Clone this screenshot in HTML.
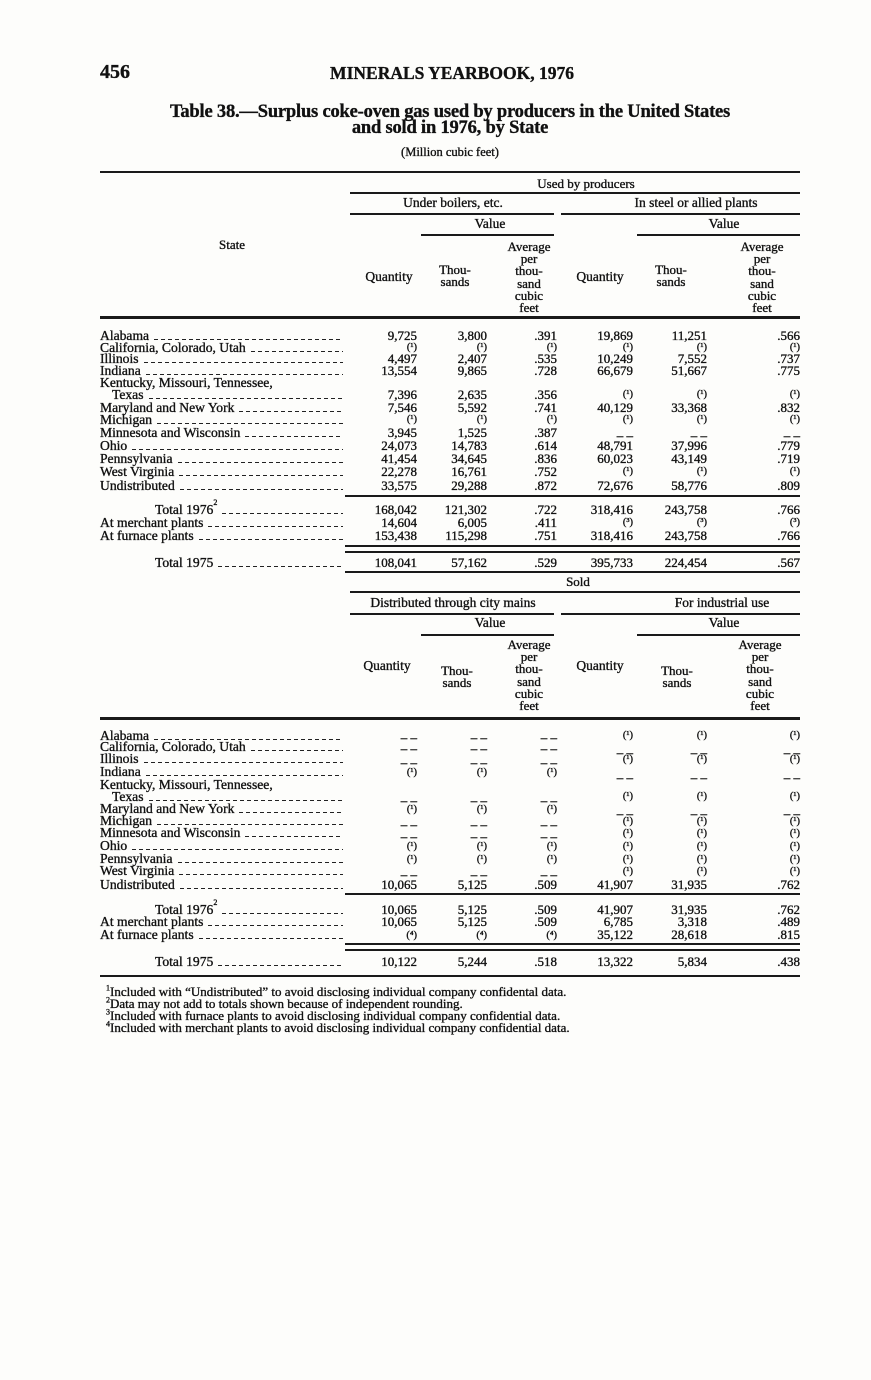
<!DOCTYPE html>
<html><head><meta charset="utf-8"><style>
body{margin:0;background:#fdfdfb;}
#p{position:relative;width:871px;height:1380px;overflow:hidden;font-family:"Liberation Serif",serif;color:#111;font-size:13px;-webkit-text-stroke:0.35px #111;}
.t{position:absolute;white-space:nowrap;line-height:14px;}
.ce{transform:translateX(-50%);text-align:center;}
.h{position:absolute;background:#1a1a1a;}
.lb{position:absolute;left:100px;width:243px;display:flex;white-space:nowrap;line-height:14px;font-size:13.6px;}
.lb i{flex:1;height:1px;align-self:flex-end;margin:0 0 3px 5px;background:repeating-linear-gradient(90deg,#222 0 4px,transparent 4px 7px);}
.v{position:absolute;line-height:14px;white-space:nowrap;text-align:right;}
.a{right:454px}.b{right:384px}.c{right:314px}.d{right:238px}.e{right:164px}.f{right:71px}
.n{font-size:10.5px;}
.hd{position:absolute;text-align:center;line-height:12.2px;font-size:13px;transform:translateX(-50%);}
</style></head><body><div id="p">
<div class="t" style="left:100px;top:62px;font-size:20px;font-weight:bold;line-height:20px">456</div>
<div class="t ce" style="left:452px;top:64px;font-size:17.5px;font-weight:bold;line-height:18px">MINERALS YEARBOOK, 1976</div>
<div class="t ce" style="left:450px;top:104px;font-size:18.5px;font-weight:bold;letter-spacing:-0.2px;line-height:16px">Table 38.—Surplus coke-oven gas used by producers in the United States</div>
<div class="t ce" style="left:450px;top:120px;font-size:18.5px;font-weight:bold;letter-spacing:-0.2px;line-height:16px">and sold in 1976, by State</div>
<div class="t ce" style="left:450px;top:145px;font-size:12.5px">(Million cubic feet)</div>

<div class="h" style="left:100px;top:171px;width:700px;height:2px"></div>
<div class="t ce" style="left:586px;top:177px;font-size:13px">Used by producers</div>
<div class="h" style="left:350px;top:192px;width:450px;height:1.5px"></div>
<div class="t ce" style="left:453px;top:196px;font-size:13.5px">Under boilers, etc.</div>
<div class="t ce" style="left:696px;top:196px;font-size:13.5px">In steel or allied plants</div>
<div class="h" style="left:350px;top:213px;width:204px;height:1.5px"></div>
<div class="h" style="left:561px;top:213px;width:239px;height:1.5px"></div>
<div class="t ce" style="left:490px;top:217px;font-size:13.5px">Value</div>
<div class="t ce" style="left:724px;top:217px;font-size:13.5px">Value</div>
<div class="h" style="left:421px;top:234px;width:133px;height:1.5px"></div>
<div class="h" style="left:637px;top:234px;width:163px;height:1.5px"></div>
<div class="t ce" style="left:232px;top:238px;font-size:13px">State</div>
<div class="t ce" style="left:389px;top:270px;font-size:13.5px">Quantity</div>
<div class="hd" style="left:455px;top:264px">Thou-<br>sands</div>
<div class="hd" style="left:529px;top:241px">Average<br>per<br>thou-<br>sand<br>cubic<br>feet</div>
<div class="t ce" style="left:600px;top:270px;font-size:13.5px">Quantity</div>
<div class="hd" style="left:671px;top:264px">Thou-<br>sands</div>
<div class="hd" style="left:762px;top:241px">Average<br>per<br>thou-<br>sand<br>cubic<br>feet</div>
<div class="h" style="left:100px;top:316px;width:700px;height:2.5px"></div>

<div class="lb" style="top:329px">Alabama<i></i></div><span class="v a" style="top:329px">9,725</span><span class="v b" style="top:329px">3,800</span><span class="v c" style="top:329px">.391</span><span class="v d" style="top:329px">19,869</span><span class="v e" style="top:329px">11,251</span><span class="v f" style="top:329px">.566</span>
<div class="lb" style="top:341px">California, Colorado, Utah<i></i></div><span class="v a n" style="top:341px">(¹)</span><span class="v b n" style="top:341px">(¹)</span><span class="v c n" style="top:341px">(¹)</span><span class="v d n" style="top:341px">(¹)</span><span class="v e n" style="top:341px">(¹)</span><span class="v f n" style="top:341px">(¹)</span>
<div class="lb" style="top:352px">Illinois<i></i></div><span class="v a" style="top:352px">4,497</span><span class="v b" style="top:352px">2,407</span><span class="v c" style="top:352px">.535</span><span class="v d" style="top:352px">10,249</span><span class="v e" style="top:352px">7,552</span><span class="v f" style="top:352px">.737</span>
<div class="lb" style="top:364px">Indiana<i></i></div><span class="v a" style="top:364px">13,554</span><span class="v b" style="top:364px">9,865</span><span class="v c" style="top:364px">.728</span><span class="v d" style="top:364px">66,679</span><span class="v e" style="top:364px">51,667</span><span class="v f" style="top:364px">.775</span>
<div class="t" style="left:100px;top:376px;font-size:13.6px">Kentucky, Missouri, Tennessee,</div>
<div class="lb" style="top:388px;padding-left:12px;width:231px">Texas<i></i></div><span class="v a" style="top:388px">7,396</span><span class="v b" style="top:388px">2,635</span><span class="v c" style="top:388px">.356</span><span class="v d n" style="top:388px">(¹)</span><span class="v e n" style="top:388px">(¹)</span><span class="v f n" style="top:388px">(¹)</span>
<div class="lb" style="top:401px">Maryland and New York<i></i></div><span class="v a" style="top:401px">7,546</span><span class="v b" style="top:401px">5,592</span><span class="v c" style="top:401px">.741</span><span class="v d" style="top:401px">40,129</span><span class="v e" style="top:401px">33,368</span><span class="v f" style="top:401px">.832</span>
<div class="lb" style="top:413px">Michigan<i></i></div><span class="v a n" style="top:413px">(¹)</span><span class="v b n" style="top:413px">(¹)</span><span class="v c n" style="top:413px">(¹)</span><span class="v d n" style="top:413px">(¹)</span><span class="v e n" style="top:413px">(¹)</span><span class="v f n" style="top:413px">(¹)</span>
<div class="lb" style="top:426px">Minnesota and Wisconsin<i></i></div><span class="v a" style="top:426px">3,945</span><span class="v b" style="top:426px">1,525</span><span class="v c" style="top:426px">.387</span><span class="v d" style="top:429px">– –</span><span class="v e" style="top:429px">– –</span><span class="v f" style="top:429px">– –</span>
<div class="lb" style="top:439px">Ohio<i></i></div><span class="v a" style="top:439px">24,073</span><span class="v b" style="top:439px">14,783</span><span class="v c" style="top:439px">.614</span><span class="v d" style="top:439px">48,791</span><span class="v e" style="top:439px">37,996</span><span class="v f" style="top:439px">.779</span>
<div class="lb" style="top:452px">Pennsylvania<i></i></div><span class="v a" style="top:452px">41,454</span><span class="v b" style="top:452px">34,645</span><span class="v c" style="top:452px">.836</span><span class="v d" style="top:452px">60,023</span><span class="v e" style="top:452px">43,149</span><span class="v f" style="top:452px">.719</span>
<div class="lb" style="top:465px">West Virginia<i></i></div><span class="v a" style="top:465px">22,278</span><span class="v b" style="top:465px">16,761</span><span class="v c" style="top:465px">.752</span><span class="v d n" style="top:465px">(¹)</span><span class="v e n" style="top:465px">(¹)</span><span class="v f n" style="top:465px">(¹)</span>
<div class="lb" style="top:479px">Undistributed<i></i></div><span class="v a" style="top:479px">33,575</span><span class="v b" style="top:479px">29,288</span><span class="v c" style="top:479px">.872</span><span class="v d" style="top:479px">72,676</span><span class="v e" style="top:479px">58,776</span><span class="v f" style="top:479px">.809</span>
<div class="h" style="left:345px;top:495px;width:455px;height:1.5px"></div>
<div class="lb" style="top:503px;padding-left:55px;width:188px">Total 1976<sup style="font-size:8px;line-height:0">2</sup><i></i></div><span class="v a" style="top:503px">168,042</span><span class="v b" style="top:503px">121,302</span><span class="v c" style="top:503px">.722</span><span class="v d" style="top:503px">318,416</span><span class="v e" style="top:503px">243,758</span><span class="v f" style="top:503px">.766</span>
<div class="lb" style="top:516px">At merchant plants<i></i></div><span class="v a" style="top:516px">14,604</span><span class="v b" style="top:516px">6,005</span><span class="v c" style="top:516px">.411</span><span class="v d n" style="top:516px">(³)</span><span class="v e n" style="top:516px">(³)</span><span class="v f n" style="top:516px">(³)</span>
<div class="lb" style="top:529px">At furnace plants<i></i></div><span class="v a" style="top:529px">153,438</span><span class="v b" style="top:529px">115,298</span><span class="v c" style="top:529px">.751</span><span class="v d" style="top:529px">318,416</span><span class="v e" style="top:529px">243,758</span><span class="v f" style="top:529px">.766</span>
<div class="h" style="left:345px;top:545px;width:455px;height:2px"></div>
<div class="h" style="left:345px;top:551px;width:455px;height:1.5px"></div>
<div class="lb" style="top:556px;padding-left:55px;width:188px">Total 1975<i></i></div><span class="v a" style="top:556px">108,041</span><span class="v b" style="top:556px">57,162</span><span class="v c" style="top:556px">.529</span><span class="v d" style="top:556px">395,733</span><span class="v e" style="top:556px">224,454</span><span class="v f" style="top:556px">.567</span>
<div class="h" style="left:345px;top:571px;width:455px;height:1.5px"></div>

<div class="t ce" style="left:578px;top:575px;font-size:13px">Sold</div>
<div class="h" style="left:350px;top:591px;width:450px;height:1.5px"></div>
<div class="t ce" style="left:453px;top:596px;font-size:13.5px">Distributed through city mains</div>
<div class="t ce" style="left:722px;top:596px;font-size:13.5px">For industrial use</div>
<div class="h" style="left:350px;top:613px;width:204px;height:1.5px"></div>
<div class="h" style="left:561px;top:613px;width:239px;height:1.5px"></div>
<div class="t ce" style="left:490px;top:616px;font-size:13.5px">Value</div>
<div class="t ce" style="left:724px;top:616px;font-size:13.5px">Value</div>
<div class="h" style="left:421px;top:634px;width:133px;height:1.5px"></div>
<div class="h" style="left:637px;top:634px;width:163px;height:1.5px"></div>
<div class="t ce" style="left:387px;top:659px;font-size:13.5px">Quantity</div>
<div class="hd" style="left:457px;top:665px">Thou-<br>sands</div>
<div class="hd" style="left:529px;top:639px">Average<br>per<br>thou-<br>sand<br>cubic<br>feet</div>
<div class="t ce" style="left:600px;top:659px;font-size:13.5px">Quantity</div>
<div class="hd" style="left:677px;top:665px">Thou-<br>sands</div>
<div class="hd" style="left:760px;top:639px">Average<br>per<br>thou-<br>sand<br>cubic<br>feet</div>
<div class="h" style="left:100px;top:717px;width:700px;height:2.5px"></div>

<div class="lb" style="top:729px">Alabama<i></i></div><span class="v a" style="top:731px">– –</span><span class="v b" style="top:731px">– –</span><span class="v c" style="top:731px">– –</span><span class="v d n" style="top:729px">(¹)</span><span class="v e n" style="top:729px">(¹)</span><span class="v f n" style="top:729px">(¹)</span>
<div class="lb" style="top:740px">California, Colorado, Utah<i></i></div><span class="v a" style="top:742px">– –</span><span class="v b" style="top:742px">– –</span><span class="v c" style="top:742px">– –</span><span class="v d" style="top:746px">– –</span><span class="v e" style="top:746px">– –</span><span class="v f" style="top:746px">– –</span>
<div class="lb" style="top:752px">Illinois<i></i></div><span class="v a" style="top:756px">– –</span><span class="v b" style="top:756px">– –</span><span class="v c" style="top:756px">– –</span><span class="v d n" style="top:753px">(¹)</span><span class="v e n" style="top:753px">(¹)</span><span class="v f n" style="top:753px">(¹)</span>
<div class="lb" style="top:765px">Indiana<i></i></div><span class="v a n" style="top:766px">(¹)</span><span class="v b n" style="top:766px">(¹)</span><span class="v c n" style="top:766px">(¹)</span><span class="v d" style="top:771px">– –</span><span class="v e" style="top:771px">– –</span><span class="v f" style="top:771px">– –</span>
<div class="t" style="left:100px;top:778px;font-size:13.6px">Kentucky, Missouri, Tennessee,</div>
<div class="lb" style="top:790px;padding-left:12px;width:231px">Texas<i></i></div><span class="v a" style="top:794px">– –</span><span class="v b" style="top:794px">– –</span><span class="v c" style="top:794px">– –</span><span class="v d n" style="top:790px">(¹)</span><span class="v e n" style="top:790px">(¹)</span><span class="v f n" style="top:790px">(¹)</span>
<div class="lb" style="top:802px">Maryland and New York<i></i></div><span class="v a n" style="top:803px">(¹)</span><span class="v b n" style="top:803px">(¹)</span><span class="v c n" style="top:803px">(¹)</span><span class="v d" style="top:807px">– –</span><span class="v e" style="top:807px">– –</span><span class="v f" style="top:807px">– –</span>
<div class="lb" style="top:814px">Michigan<i></i></div><span class="v a" style="top:818px">– –</span><span class="v b" style="top:818px">– –</span><span class="v c" style="top:818px">– –</span><span class="v d n" style="top:815px">(¹)</span><span class="v e n" style="top:815px">(¹)</span><span class="v f n" style="top:815px">(¹)</span>
<div class="lb" style="top:826px">Minnesota and Wisconsin<i></i></div><span class="v a" style="top:830px">– –</span><span class="v b" style="top:830px">– –</span><span class="v c" style="top:830px">– –</span><span class="v d n" style="top:827px">(¹)</span><span class="v e n" style="top:827px">(¹)</span><span class="v f n" style="top:827px">(¹)</span>
<div class="lb" style="top:839px">Ohio<i></i></div><span class="v a n" style="top:840px">(¹)</span><span class="v b n" style="top:840px">(¹)</span><span class="v c n" style="top:840px">(¹)</span><span class="v d n" style="top:840px">(¹)</span><span class="v e n" style="top:840px">(¹)</span><span class="v f n" style="top:840px">(¹)</span>
<div class="lb" style="top:852px">Pennsylvania<i></i></div><span class="v a n" style="top:853px">(¹)</span><span class="v b n" style="top:853px">(¹)</span><span class="v c n" style="top:853px">(¹)</span><span class="v d n" style="top:853px">(¹)</span><span class="v e n" style="top:853px">(¹)</span><span class="v f n" style="top:853px">(¹)</span>
<div class="lb" style="top:864px">West Virginia<i></i></div><span class="v a" style="top:868px">– –</span><span class="v b" style="top:868px">– –</span><span class="v c" style="top:868px">– –</span><span class="v d n" style="top:865px">(¹)</span><span class="v e n" style="top:865px">(¹)</span><span class="v f n" style="top:865px">(¹)</span>
<div class="lb" style="top:878px">Undistributed<i></i></div><span class="v a" style="top:878px">10,065</span><span class="v b" style="top:878px">5,125</span><span class="v c" style="top:878px">.509</span><span class="v d" style="top:878px">41,907</span><span class="v e" style="top:878px">31,935</span><span class="v f" style="top:878px">.762</span>
<div class="h" style="left:345px;top:893px;width:455px;height:1.5px"></div>
<div class="lb" style="top:903px;padding-left:55px;width:188px">Total 1976<sup style="font-size:8px;line-height:0">2</sup><i></i></div><span class="v a" style="top:903px">10,065</span><span class="v b" style="top:903px">5,125</span><span class="v c" style="top:903px">.509</span><span class="v d" style="top:903px">41,907</span><span class="v e" style="top:903px">31,935</span><span class="v f" style="top:903px">.762</span>
<div class="lb" style="top:915px">At merchant plants<i></i></div><span class="v a" style="top:915px">10,065</span><span class="v b" style="top:915px">5,125</span><span class="v c" style="top:915px">.509</span><span class="v d" style="top:915px">6,785</span><span class="v e" style="top:915px">3,318</span><span class="v f" style="top:915px">.489</span>
<div class="lb" style="top:928px">At furnace plants<i></i></div><span class="v a n" style="top:929px">(⁴)</span><span class="v b n" style="top:929px">(⁴)</span><span class="v c n" style="top:929px">(⁴)</span><span class="v d" style="top:928px">35,122</span><span class="v e" style="top:928px">28,618</span><span class="v f" style="top:928px">.815</span>
<div class="h" style="left:345px;top:943px;width:455px;height:2px"></div>
<div class="h" style="left:345px;top:949px;width:455px;height:1.5px"></div>
<div class="lb" style="top:955px;padding-left:55px;width:188px">Total 1975<i></i></div><span class="v a" style="top:955px">10,122</span><span class="v b" style="top:955px">5,244</span><span class="v c" style="top:955px">.518</span><span class="v d" style="top:955px">13,322</span><span class="v e" style="top:955px">5,834</span><span class="v f" style="top:955px">.438</span>
<div class="h" style="left:100px;top:975px;width:700px;height:2px"></div>

<div class="t" style="left:106px;top:985px;font-size:13px"><sup style="font-size:8px;line-height:0">1</sup>Included with “Undistributed” to avoid disclosing individual company confidental data.</div>
<div class="t" style="left:106px;top:997px;font-size:13px"><sup style="font-size:8px;line-height:0">2</sup>Data may not add to totals shown because of independent rounding.</div>
<div class="t" style="left:106px;top:1009px;font-size:13px"><sup style="font-size:8px;line-height:0">3</sup>Included with furnace plants to avoid disclosing individual company confidential data.</div>
<div class="t" style="left:106px;top:1021px;font-size:13px"><sup style="font-size:8px;line-height:0">4</sup>Included with merchant plants to avoid disclosing individual company confidential data.</div>
</div></body></html>
